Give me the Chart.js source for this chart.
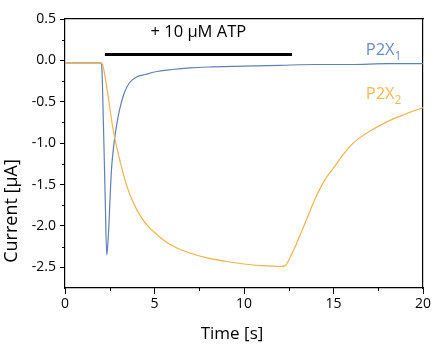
<!DOCTYPE html>
<html>
<head>
<meta charset="utf-8">
<script src="https://cdn.jsdelivr.net/npm/chart.js@4/dist/chart.umd.min.js"></script>
<style>
  html, body { margin: 0; padding: 0; background: #fff; }
  #wrap { width: 436px; height: 350px; }
</style>
</head>
<body>
<div id="wrap"><canvas id="chart" width="436" height="350"></canvas></div>
<script>
// --- data ---
const p2x1Time = [0, 2.0, 2.05, 2.15, 2.25, 2.33, 2.38, 2.45, 2.52, 2.6, 2.7, 2.8, 2.95, 3.1, 3.3, 3.6, 4.0, 4.5, 5.0, 6.0, 7.0, 8.0, 10, 12, 14, 16, 18, 20];
const p2x1Current = [-0.03, -0.03, -0.06, -0.8, -1.7, -2.35, -2.25, -2.0, -1.65, -1.31, -1.07, -0.9, -0.7, -0.55, -0.4, -0.27, -0.2, -0.17, -0.14, -0.11, -0.09, -0.08, -0.07, -0.06, -0.05, -0.05, -0.04, -0.04];

const p2x2Time = [0, 2.0, 2.1, 2.2, 2.4, 2.7, 3.0, 3.5, 4.0, 4.5, 5.0, 5.5, 6.0, 7.0, 8.0, 9.0, 10.0, 11.0, 12.0, 12.3, 12.6, 13.0, 13.5, 14.0, 14.5, 15.0, 15.5, 16.0, 16.5, 17.0, 18.0, 19.0, 20.0];
const p2x2Current = [-0.03, -0.03, -0.05, -0.15, -0.42, -0.85, -1.15, -1.55, -1.8, -1.97, -2.08, -2.17, -2.24, -2.33, -2.39, -2.43, -2.46, -2.48, -2.49, -2.48, -2.37, -2.18, -1.92, -1.66, -1.45, -1.3, -1.15, -1.02, -0.93, -0.86, -0.74, -0.65, -0.57];

const atpBarTime = [2.23, 12.68];
const atpBarLevel = 0.07;

const xTicks = [0, 5, 10, 15, 20];
const xMinorTicks = [2.5, 7.5, 12.5, 17.5];
const yTicks = [0.5, 0.0, -0.5, -1.0, -1.5, -2.0, -2.5];
const yMinorTicks = [0.25, -0.25, -0.75, -1.25, -1.75, -2.25];

const BLUE = '#5f80b2';
const ORANGE = '#f0b24e';
const FONT = '"Open Sans", "DejaVu Sans", sans-serif';

const toPoints = (xs, ys) => xs.map((x, i) => ({ x, y: ys[i] }));

// minor ticks, axis titles + annotation text
const extras = {
  id: 'extras',
  afterDraw(chart) {
    const { ctx, scales: { x, y } } = chart;
    ctx.save();
    ctx.strokeStyle = '#000';
    ctx.lineWidth = 1;
    xMinorTicks.forEach(v => {
      const px = Math.round(x.getPixelForValue(v)) + 0.5;
      ctx.beginPath(); ctx.moveTo(px, y.bottom); ctx.lineTo(px, y.bottom + 3); ctx.stroke();
    });
    yMinorTicks.forEach(v => {
      const py = Math.round(y.getPixelForValue(v)) + 0.5;
      ctx.beginPath(); ctx.moveTo(x.left - 3, py); ctx.lineTo(x.left, py); ctx.stroke();
    });

    ctx.fillStyle = '#000';
    ctx.textAlign = 'center';
    ctx.textBaseline = 'middle';
    ctx.font = '17px ' + FONT;
    ctx.fillText('Time [s]', 232, 334);
    ctx.save();
    ctx.translate(12, 211);
    ctx.rotate(-Math.PI / 2);
    ctx.font = '18px ' + FONT;
    ctx.fillText('Current [\u00b5A]', 0, 0);
    ctx.restore();

    ctx.textBaseline = 'alphabetic';
    ctx.font = '16.5px ' + FONT;
    ctx.fillText('+ 10 \u00b5M ATP', x.getPixelForValue(7.45), y.getPixelForValue(0.28));

    const label = (txt, sub, color, t, v) => {
      ctx.fillStyle = color;
      ctx.textAlign = 'left';
      ctx.font = '16.5px ' + FONT;
      const px = x.getPixelForValue(t), py = y.getPixelForValue(v);
      ctx.fillText(txt, px, py);
      const w = ctx.measureText(txt).width;
      ctx.font = '12px ' + FONT;
      ctx.fillText(sub, px + w, py + 5);
    };
    label('P2X', '1', '#6a8cc2', 16.8, 0.07);
    label('P2X', '2', '#f4b957', 16.8, -0.47);
    ctx.restore();
  }
};

new Chart(document.getElementById('chart'), {
  type: 'line',
  data: {
    datasets: [
      { label: 'P2X2', data: toPoints(p2x2Time, p2x2Current), borderColor: ORANGE, borderWidth: 1.2, pointRadius: 0, cubicInterpolationMode: 'monotone' },
      { label: 'P2X1', data: toPoints(p2x1Time, p2x1Current), borderColor: BLUE, borderWidth: 1.2, pointRadius: 0, cubicInterpolationMode: 'monotone' },
      { label: 'ATP', data: atpBarTime.map(t => ({ x: t, y: atpBarLevel })), borderColor: '#000', borderWidth: 3, pointRadius: 0 }
    ]
  },
  options: {
    responsive: false,
    animation: false,
    events: [],
    layout: { padding: { top: 19, right: 13, left: 0, bottom: 0 } },
    plugins: { legend: { display: false }, tooltip: { enabled: false } },
    scales: {
      x: {
        type: 'linear', min: 0, max: 20,
        afterBuildTicks: s => { s.ticks = xTicks.map(v => ({ value: v })); },
        afterFit: s => { s.height = 62; },
        grid: { drawOnChartArea: false, tickLength: 6, color: '#000' },
        border: { color: '#000', width: 1.2 },
        ticks: { color: '#000', font: { family: FONT, size: 14 }, padding: 2, maxRotation: 0 }
      },
      y: {
        type: 'linear', min: -2.75, max: 0.5,
        afterBuildTicks: s => { s.ticks = yTicks.map(v => ({ value: v })); },
        afterFit: s => { s.width = 65; },
        grid: { drawOnChartArea: false, tickLength: 5, color: '#000' },
        border: { color: '#000', width: 1.2 },
        ticks: { color: '#000', font: { family: FONT, size: 14 }, padding: 4, callback: v => v.toFixed(1) }
      },
      x2: {
        type: 'linear', position: 'top', min: 0, max: 20,
        afterFit: s => { s.height = 0; },
        grid: { display: false }, ticks: { display: false },
        border: { color: '#000', width: 1.2 }
      },
      y2: {
        type: 'linear', position: 'right', min: -2.75, max: 0.5,
        afterFit: s => { s.width = 0; },
        grid: { display: false }, ticks: { display: false },
        border: { color: '#000', width: 1.2 }
      }
    }
  },
  plugins: [extras]
});
</script>
</body>
</html>
